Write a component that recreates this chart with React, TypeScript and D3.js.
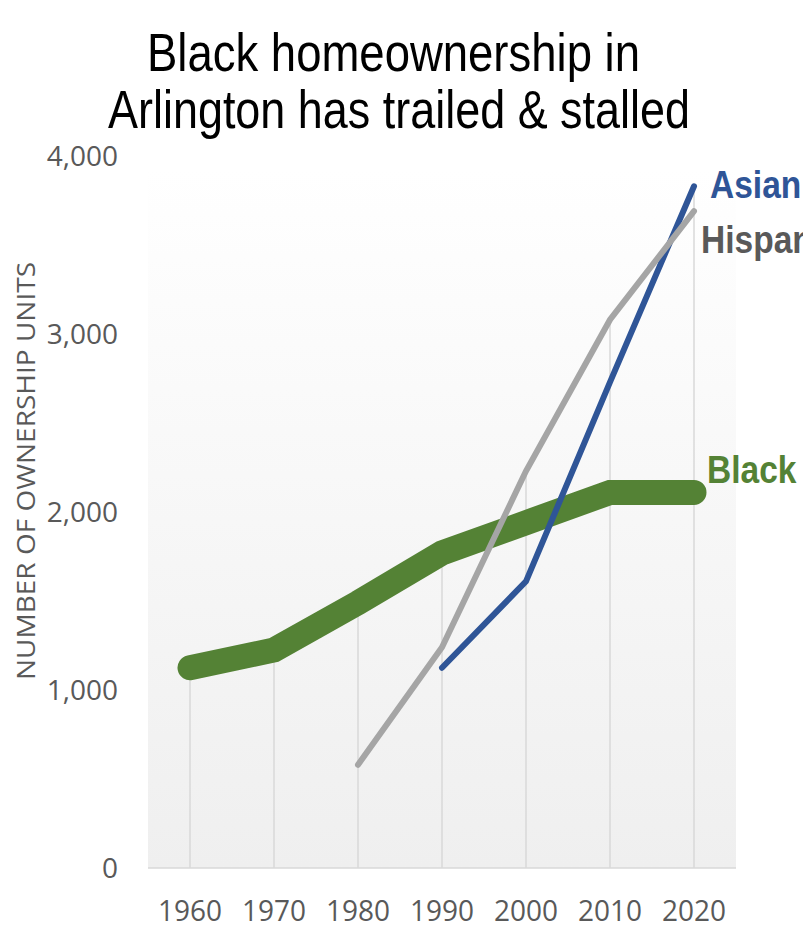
import React from "react";
import * as d3 from "d3";

// Ownership units by decade
const years = [1960, 1970, 1980, 1990, 2000, 2010, 2020];
const blackUnits: (number | null)[] = [1125, 1225, 1490, 1770, 1940, 2110, 2110];
const hispanicUnits: (number | null)[] = [null, null, 580, 1240, 2230, 3080, 3690];
const asianUnits: (number | null)[] = [null, null, null, 1125, 1610, 2730, 3830];
const yTicks = [0, 1000, 2000, 3000, 4000];
const titleLines = ["Black homeownership in", "Arlington has trailed & stalled"];

const W = 803;
const H = 929;
const plot = { left: 148, right: 736, top: 156, bottom: 868 };

export default function App() {
  const x = d3
    .scaleBand<number>()
    .domain(years)
    .range([plot.left, plot.right])
    .padding(0);
  const cx = (yr: number) => (x(yr) as number) + x.bandwidth() / 2;
  const y = d3.scaleLinear().domain([0, 4000]).range([plot.bottom, plot.top]);

  const line = d3
    .line<number | null>()
    .defined((d) => d !== null)
    .x((_, i) => cx(years[i]))
    .y((d) => y(d as number));

  const series = [
    { name: "Black", values: blackUnits, color: "#548235", width: 25, label: "#548235" },
    { name: "Asian", values: asianUnits, color: "#2f5597", width: 6, label: "#2f5597" },
    { name: "Hispanic", values: hispanicUnits, color: "#a5a5a5", width: 6, label: "#595959" },
  ];

  // drop lines from the highest point of each decade down to the axis
  const tops = years.map((_, i) =>
    d3.max([blackUnits[i], hispanicUnits[i], asianUnits[i]].filter((v) => v !== null) as number[]) as number
  );

  const labelPos: Record<string, { x: number; y: number }> = {
    Asian: { x: 710, y: 198 },
    Hispanic: { x: 701, y: 253 },
    Black: { x: 707, y: 483 },
  };

  return (
    <svg
      width={W}
      height={H}
      style={{ position: "absolute", left: 0, top: 0, background: "#ffffff", overflow: "hidden" }}
    >
      <defs>
        <linearGradient id="plotBg" x1="0" y1="0" x2="0" y2="1">
          <stop offset="0" stopColor="#ffffff" />
          <stop offset="1" stopColor="#efefef" />
        </linearGradient>
      </defs>

      <rect
        x={plot.left}
        y={170}
        width={plot.right - plot.left}
        height={plot.bottom - 170}
        fill="url(#plotBg)"
      />

      {years.map((yr, i) => (
        <line
          key={yr}
          x1={cx(yr)}
          x2={cx(yr)}
          y1={y(tops[i])}
          y2={plot.bottom}
          stroke="#d9d9d9"
          strokeWidth={1.5}
        />
      ))}

      <line
        x1={plot.left}
        x2={plot.right}
        y1={plot.bottom}
        y2={plot.bottom}
        stroke="#d9d9d9"
        strokeWidth={1.5}
      />

      {yTicks.map((t) => (
        <text
          key={t}
          x={118}
          y={y(t)}
          dy="0.36em"
          textAnchor="end"
          fontFamily="'Open Sans', sans-serif"
          fontSize={28}
          fill="#595959"
        >
          {d3.format(",")(t)}
        </text>
      ))}

      {years.map((yr) => (
        <text
          key={yr}
          x={cx(yr)}
          y={921}
          textAnchor="middle"
          fontFamily="'Open Sans', sans-serif"
          fontSize={29}
          fill="#595959"
          textLength={64}
          lengthAdjust="spacingAndGlyphs"
        >
          {yr}
        </text>
      ))}

      <text
        transform={`translate(35, ${(262 + 680) / 2}) rotate(-90)`}
        textAnchor="middle"
        fontFamily="'Open Sans', sans-serif"
        fontSize={25}
        fill="#595959"
        textLength={418}
        lengthAdjust="spacingAndGlyphs"
      >
        NUMBER OF OWNERSHIP UNITS
      </text>

      {series.map((s) => (
        <path
          key={s.name}
          d={line(s.values) || ""}
          fill="none"
          stroke={s.color}
          strokeWidth={s.width}
          strokeLinecap="round"
          strokeLinejoin="miter"
        />
      ))}

      {series.map((s) => {
        const p = labelPos[s.name];
        return (
          <text
            key={s.name}
            transform={`translate(${p.x}, ${p.y}) scale(0.86, 1)`}
            fontFamily="'Liberation Sans', Arial, sans-serif"
            fontWeight="bold"
            fontSize={39}
            fill={s.label}
          >
            {s.name}
          </text>
        );
      })}

      <text
        x={393.5}
        y={71}
        textAnchor="middle"
        fontFamily="'Liberation Sans', Arial, sans-serif"
        fontSize={53}
        fill="#000000"
        textLength={493}
        lengthAdjust="spacingAndGlyphs"
      >
        {titleLines[0]}
      </text>
      <text
        x={399}
        y={128}
        textAnchor="middle"
        fontFamily="'Liberation Sans', Arial, sans-serif"
        fontSize={53}
        fill="#000000"
        textLength={582}
        lengthAdjust="spacingAndGlyphs"
      >
        {titleLines[1]}
      </text>
    </svg>
  );
}
